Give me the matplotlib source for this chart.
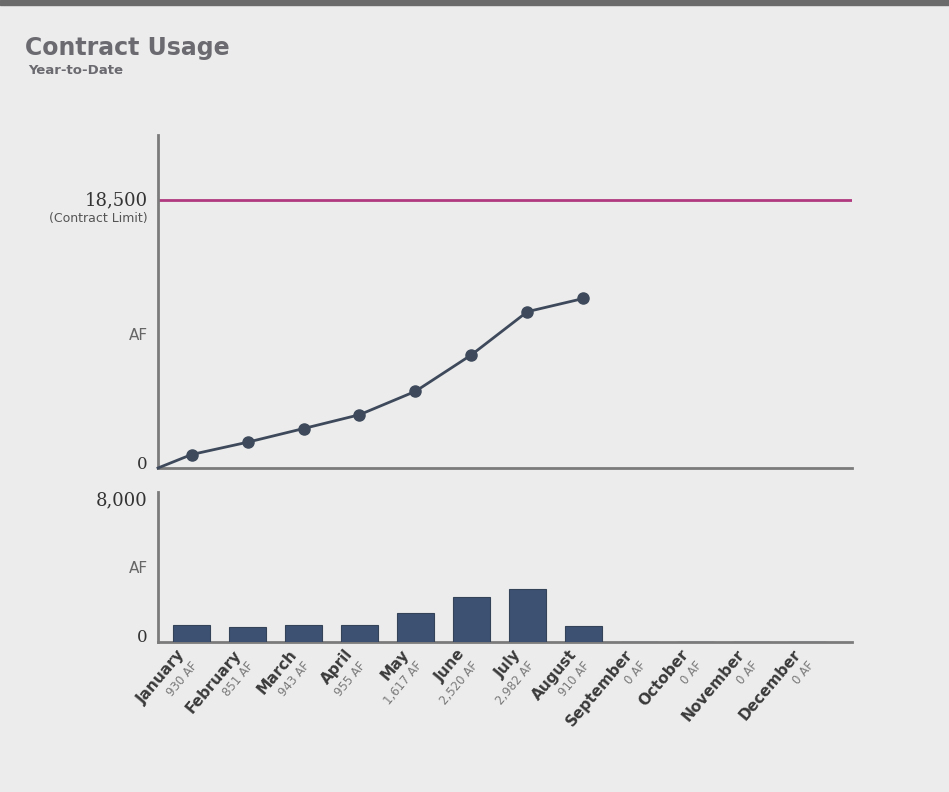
import numpy as np
import matplotlib.pyplot as plt
from matplotlib import transforms

# 数据
months = ['January', 'February', 'March', 'April', 'May', 'June', 'July',
          'August', 'September', 'October', 'November', 'December']
monthly_af = [930, 851, 943, 955, 1617, 2520, 2982, 910, 0, 0, 0, 0]
months_reported = 8
contract_limit = 18500
top_ymax = 23000
bottom_ymax = 8450

bg = '#ececec'
axis_gray = '#7b7b7b'
line_color = '#3e4a5c'
bar_color = '#3d5173'
limit_color = '#b0397f'
title_gray = '#6a6a70'

fig = plt.figure(figsize=(9.49, 7.92), dpi=100)
fig.patch.set_facecolor(bg)

# 顶部深色条
fig.add_artist(plt.Rectangle((0, 1 - 5 / 792), 1, 5 / 792, transform=fig.transFigure,
                             color='#6b6b6b', zorder=5))

fig.text(25 / 949, 1 - 48 / 792, 'Contract Usage', fontsize=17, color=title_gray,
         fontweight='bold', va='center', ha='left', family='DejaVu Sans')
fig.text(28 / 949, 1 - 71 / 792, 'Year-to-Date', fontsize=9.5, color=title_gray,
         fontweight='bold', va='center', ha='left', family='DejaVu Sans')

x = np.arange(len(months))
xmin, xmax = -0.6, 11.8

ax1 = fig.add_axes([158 / 949, 1 - 468 / 792, 694 / 949, 333 / 792])
ax2 = fig.add_axes([158 / 949, 1 - 642 / 792, 694 / 949, 150 / 792])

for ax in (ax1, ax2):
    ax.set_facecolor(bg)
    ax.set_xlim(xmin, xmax)
    for s in ('top', 'right'):
        ax.spines[s].set_visible(False)
    for s in ('left', 'bottom'):
        ax.spines[s].set_color(axis_gray)
        ax.spines[s].set_linewidth(2)
    ax.set_xticks([])
    ax.set_yticks([])

# 上图：累计用量
cumulative = np.cumsum(monthly_af[:months_reported])
ax1.set_ylim(0, top_ymax)
ax1.axhline(contract_limit, color=limit_color, lw=2, zorder=2)
ax1.plot(np.r_[xmin, x[:months_reported]], np.r_[0, cumulative], color=line_color,
         lw=2, zorder=3, clip_on=False)
ax1.plot(x[:months_reported], cumulative, 'o', color=line_color, ms=8, zorder=4)

tr1 = transforms.blended_transform_factory(ax1.transAxes, ax1.transData)
ax1.text(-0.015, contract_limit, '18,500', transform=tr1, ha='right', va='center',
         fontsize=13, color='#333333', family='DejaVu Serif')
ax1.text(-0.015, contract_limit - 1300, '(Contract Limit)', transform=tr1, ha='right',
         va='center', fontsize=9, color='#555555', family='DejaVu Sans')
ax1.text(-0.015, 9150, 'AF', transform=tr1, ha='right', va='center', fontsize=11,
         color='#666666', family='DejaVu Sans')
ax1.text(-0.015, 250, '0', transform=tr1, ha='right', va='center', fontsize=12,
         color='#333333', family='DejaVu Serif')

# 下图：每月用量
ax2.set_ylim(0, bottom_ymax)
ax2.bar(x, monthly_af, width=0.66, color=bar_color, edgecolor='#344358', lw=0.8,
        zorder=3)
tr2 = transforms.blended_transform_factory(ax2.transAxes, ax2.transData)
ax2.text(-0.015, 8000, '8,000', transform=tr2, ha='right', va='center', fontsize=13,
         color='#333333', family='DejaVu Serif')
ax2.text(-0.015, 4150, 'AF', transform=tr2, ha='right', va='center', fontsize=11,
         color='#666666', family='DejaVu Sans')
ax2.text(-0.015, 250, '0', transform=tr2, ha='right', va='center', fontsize=12,
         color='#333333', family='DejaVu Serif')

# 月份标签（旋转约50度）
trx = transforms.blended_transform_factory(ax2.transData, ax2.transAxes)
for xi, name, val in zip(x, months, monthly_af):
    ax2.annotate(name, (xi, 0), xycoords=trx, xytext=(-4, -9), textcoords='offset points',
                 rotation=50, rotation_mode='anchor', ha='right', va='baseline',
                 fontsize=11, fontweight='bold', color='#3a3a3a', family='DejaVu Sans',
                 annotation_clip=False)
    ax2.annotate(f'{val:,} AF', (xi, 0), xycoords=trx, xytext=(5, -17),
                 textcoords='offset points', rotation=50, rotation_mode='anchor',
                 ha='right', va='baseline', fontsize=8.5, color='#7a7a7a',
                 family='DejaVu Sans', annotation_clip=False)

plt.savefig('out.png', dpi=100, facecolor=bg)
